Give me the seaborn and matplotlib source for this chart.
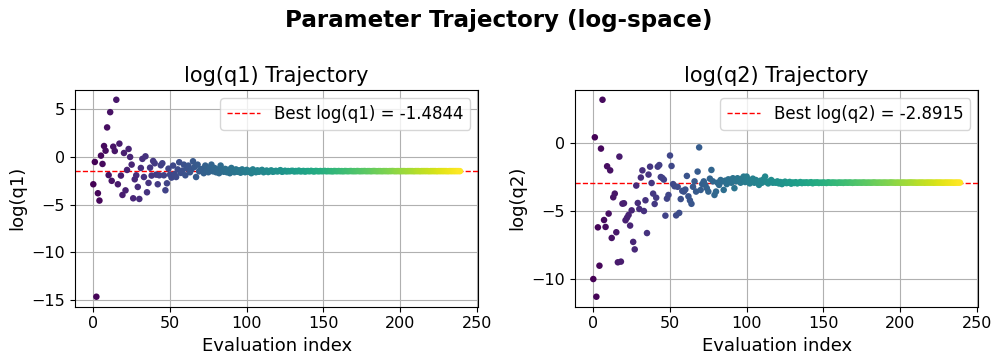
import numpy as np
import pandas as pd
import matplotlib
matplotlib.use("Agg")
import matplotlib.pyplot as plt
import seaborn as sns

# ---------------- data ----------------
logq1_early = [
    -2.86, -0.52, -14.65, -3.8, -4.57, 0.14, -0.73, 1.15, 0.66, 3.1,
    -1.9, 4.7, -2.5, 1.08, 0.63, 6.0, -2.86, 1.4, -1.95, -3.98,
    0.42, -3.5, -1.36, 0.84, 0.0, -0.8, -4.33, -2.34, -1.92, -3.14,
    -4.4, -1.15, -0.2, -2.1, 0.07, -3.7, -2.72, -1.12, -1.95, -0.42,
    -0.66, -1.85, -2.86, -1.92, -0.87, -0.66, -1.92, -3.49, -2.76, -1.22,
    -1.85, -2.16, -0.9, -1.8, -2.1, -1.3, -0.55, -1.67, -1.43, -0.8,
    -1.92, -1.2, -0.9, -1.6, -1.3, -0.45, -1.04, -2.1, -0.8, -1.5,
    -1.3, -1.25, -1.7, -0.9, -1.4, -1.6, -1.1, -0.8, -1.5, -1.15,
    -1.6, -1.3, -1.7, -0.9, -1.4, -1.55, -1.25, -1.6, -1.35, -1.7,
    -1.15, -1.5, -1.6, -1.3, -1.55, -1.4, -1.65, -1.3, -1.5, -1.6,
    -1.35, -1.55, -1.45, -1.7, -1.3, -1.5, -1.6, -1.4, -1.55, -1.45,
    -1.35, -1.6, -1.5, -1.42, -1.58, -1.48, -1.4, -1.55, -1.5, -1.45,
    -1.52, -1.46, -1.38, -1.55, -1.5, -1.44, -1.52, -1.47, -1.5, -1.46,
]
logq1_late = [
    -1.45, -1.52, -1.47, -1.50, -1.43, -1.51, -1.49, -1.46, -1.53, -1.48,
    -1.47, -1.50, -1.45, -1.49, -1.52, -1.46, -1.48, -1.50, -1.47, -1.49,
    -1.48, -1.46, -1.50, -1.47, -1.49, -1.48, -1.51, -1.47, -1.48, -1.49,
    -1.47, -1.49, -1.48, -1.50, -1.47, -1.48, -1.49, -1.48, -1.47, -1.49,
    -1.48, -1.49, -1.47, -1.48, -1.49, -1.48, -1.48, -1.47, -1.49, -1.48,
    -1.48, -1.49, -1.48, -1.47, -1.48, -1.49, -1.48, -1.48, -1.49, -1.48,
    -1.48, -1.48, -1.49, -1.48, -1.48, -1.47, -1.48, -1.49, -1.48, -1.48,
    -1.49, -1.48, -1.48, -1.48, -1.49, -1.48, -1.48, -1.48, -1.48, -1.49,
    -1.48, -1.48, -1.48, -1.49, -1.48, -1.48, -1.48, -1.48, -1.48, -1.49,
    -1.48, -1.48, -1.48, -1.48, -1.49, -1.48, -1.48, -1.48, -1.48, -1.48,
    -1.48, -1.49, -1.48, -1.48, -1.48, -1.48, -1.48, -1.48, -1.48, -1.4844,
]
logq2_early = [
    -9.98, 0.44, -11.28, -6.18, -9.0, -0.39, 3.2, -5.64, -6.15, -1.69,
    -5.17, -1.99, -6.96, -3.97, -3.7, -6.54, -8.75, -0.98, -8.7, -4.44,
    -4.41, -5.66, -5.47, -5.27, -6.05, -4.93, -7.25, -7.8, -3.11, -4.39,
    -4.83, -2.52, -1.99, -4.98, -4.19, -6.6, -2.3, -1.72, -2.92, -3.7,
    -4.46, -4.0, -1.72, -1.6, -2.48, -2.55, -2.67, -5.32, -4.07, -3.8,
    -0.9, -1.67, -3.0, -3.16, -5.3, -3.2, -5.12, -4.1, -3.5, -3.55,
    -3.4, -2.4, -3.9, -4.2, -4.45, -3.2, -2.8, -3.55, -2.08, -0.3,
    -3.43, -3.0, -2.8, -3.06, -3.3, -3.55, -2.6, -1.96, -2.8, -3.8,
    -3.55, -2.9, -3.06, -2.7, -2.8, -3.43, -2.75, -3.0, -2.65, -2.7,
    -2.9, -2.57, -3.3, -2.8, -2.57, -2.75, -2.9, -2.6, -2.45, -2.85,
    -2.45, -2.7, -2.95, -2.8, -2.6, -2.9, -2.7, -2.85, -3.06, -2.75,
    -2.9, -2.65, -2.45, -2.85, -2.95, -2.8, -2.7, -2.9, -2.85, -2.9,
    -2.8, -2.95, -2.85, -3.0, -2.88, -2.82, -2.93, -2.9, -2.84, -2.97,
]
logq2_late = [
    -2.88, -2.92, -2.86, -2.95, -2.90, -2.85, -2.93, -2.88, -2.91, -2.87,
    -2.92, -2.89, -2.86, -2.94, -2.88, -2.90, -2.87, -2.92, -2.89, -2.91,
    -2.88, -2.90, -2.92, -2.87, -2.89, -2.91, -2.88, -2.90, -2.89, -2.92,
    -2.88, -2.90, -2.89, -2.91, -2.88, -2.89, -2.90, -2.88, -2.89, -2.91,
    -2.89, -2.88, -2.90, -2.89, -2.89, -2.90, -2.88, -2.89, -2.90, -2.89,
    -2.89, -2.90, -2.89, -2.88, -2.89, -2.90, -2.89, -2.89, -2.90, -2.89,
    -2.89, -2.89, -2.90, -2.89, -2.88, -2.89, -2.89, -2.90, -2.89, -2.89,
    -2.90, -2.89, -2.89, -2.89, -2.90, -2.89, -2.89, -2.88, -2.89, -2.89,
    -2.89, -2.90, -2.89, -2.89, -2.89, -2.89, -2.90, -2.89, -2.89, -2.89,
    -2.89, -2.89, -2.90, -2.89, -2.89, -2.89, -2.89, -2.89, -2.90, -2.89,
    -2.89, -2.89, -2.89, -2.89, -2.89, -2.90, -2.89, -2.89, -2.89, -2.8915,
]
best_q1 = -1.4844
best_q2 = -2.8915

logq1 = logq1_early + logq1_late
logq2 = logq2_early + logq2_late
n = min(len(logq1), len(logq2))
idx = np.arange(n)
df = pd.DataFrame({"idx": idx, "logq1": logq1[:n], "logq2": logq2[:n]})

# ---------------- plot ----------------
fig = plt.figure(figsize=(9.97, 3.54), dpi=100)
ax1 = fig.add_axes([0.0752, 0.134, 0.4045, 0.612])
ax2 = fig.add_axes([0.5767, 0.134, 0.4045, 0.612])

panels = [
    (ax1, "logq1", best_q1, "log(q1)"),
    (ax2, "logq2", best_q2, "log(q2)"),
]
for ax, col, best, name in panels:
    sns.scatterplot(data=df, x="idx", y=col, hue="idx", palette="viridis",
                    legend=False, s=22, edgecolor="none", linewidth=0, ax=ax,
                    zorder=3)
    ax.axhline(best, color="red", linestyle="--", linewidth=1,
               label=f"Best {name} = {best:.4f}", zorder=2)
    ax.grid(True, color="#b0b0b0", linewidth=0.8, zorder=0)
    ax.set_axisbelow(True)
    ax.set_title(f"{name} Trajectory", fontsize=15)
    ax.set_xlabel("Evaluation index", fontsize=13)
    ax.set_ylabel(name, fontsize=13)
    ax.tick_params(labelsize=11.5)
    ax.set_xticks([0, 50, 100, 150, 200, 250])
    ax.legend(loc="upper right", fontsize=12)

ax1.set_yticks([5, 0, -5, -10, -15])
ax2.set_yticks([0, -5, -10])

fig.suptitle("Parameter Trajectory (log-space)", fontsize=16.6,
             fontweight="bold", y=0.975)

fig.savefig("out.png", dpi=100)
